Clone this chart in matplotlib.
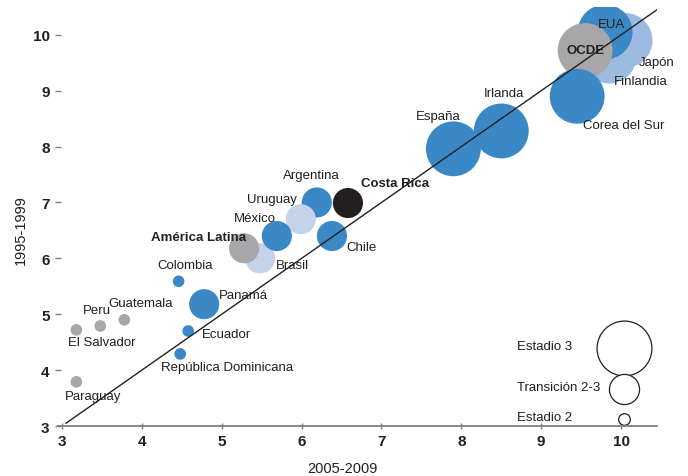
import numpy as np
import matplotlib
matplotlib.use("Agg")
import matplotlib.pyplot as plt

plt.rcParams["font.family"] = ["Liberation Sans", "DejaVu Sans"]

# ------------------------------------------------------------
# Data
# ------------------------------------------------------------
countries = ["Japón", "Finlandia", "EUA", "OCDE", "Corea del Sur", "Irlanda", "España",
             "Brasil", "América Latina", "Argentina", "Uruguay", "México", "Chile",
             "Costa Rica", "Colombia", "Panamá", "Ecuador", "República Dominicana",
             "Guatemala", "Peru", "El Salvador", "Paraguay"]
x_2005_2009 = [10.05, 9.85, 9.8, 9.55, 9.45, 8.5, 7.9,
               5.48, 5.28, 6.19, 5.99, 5.69, 6.38,
               6.58, 4.46, 4.78, 4.58, 4.48,
               3.78, 3.48, 3.18, 3.18]
y_1995_1999 = [9.9, 9.62, 10.05, 9.72, 8.9, 8.28, 7.96,
               6.0, 6.18, 7.0, 6.7, 6.4, 6.4,
               6.99, 5.59, 5.18, 4.7, 4.29,
               4.9, 4.79, 4.72, 3.79]
stage = [3, 3, 3, 3, 3, 3, 3,
         2.5, 2.5, 2.5, 2.5, 2.5, 2.5,
         2.5, 2, 2.5, 2, 2,
         2, 2, 2, 2]
group = ["light2", "light2", "blue", "gray", "blue", "blue", "blue",
         "light", "gray", "blue", "light", "blue", "blue",
         "black", "blue", "blue", "blue", "blue",
         "gray", "gray", "gray", "gray"]
bold_labels = ["OCDE", "América Latina", "Costa Rica"]

legend_names = ["Estadio 3", "Transición 2-3", "Estadio 2"]
legend_stage = [3, 2.5, 2]

# ------------------------------------------------------------
# Styles
# ------------------------------------------------------------
size_of = {3: 1560, 2.5: 470, 2: 70}
color_of = {"blue": "#3a88c5", "light": "#c3d4ea", "light2": "#9dbbe0",
            "gray": "#a7a7a9", "black": "#231f20"}

# label offsets in pixels (dx, dy, ha)
label_pos = {
    "EUA": (6, 8, "center"), "Japón": (14, -22, "left"), "Finlandia": (5, -25, "left"),
    "OCDE": (0, 0, "center"), "Corea del Sur": (6, -29, "left"),
    "Irlanda": (3, 38, "center"), "España": (-15, 33, "center"),
    "Costa Rica": (13, 20, "left"), "Argentina": (-5, 27, "center"),
    "Uruguay": (-4, 20, "right"), "México": (-1, 18, "right"),
    "América Latina": (2, 11, "right"), "Brasil": (16, -7, "left"),
    "Chile": (14, -11, "left"), "Colombia": (7, 16, "center"),
    "Panamá": (15, 9, "left"), "Ecuador": (14, -3, "left"),
    "República Dominicana": (-19, -13, "left"), "Guatemala": (-16, 17, "left"),
    "Peru": (-3, 16, "center"), "El Salvador": (-8, -12, "left"),
    "Paraguay": (-11, -14, "left"),
}

# ------------------------------------------------------------
# Plot
# ------------------------------------------------------------
fig = plt.figure(figsize=(6.88, 4.77), dpi=100)
ax = fig.add_axes([0.0843, 0.1048, 0.8707, 0.8775])

for name, xv, yv, st, gr in zip(countries, x_2005_2009, y_1995_1999, stage, group):
    ax.scatter(xv, yv, s=size_of[st], color=color_of[gr], edgecolors="none", zorder=2)
    dx, dy, ha = label_pos[name]
    weight = "bold" if name in bold_labels else "normal"
    ax.annotate(name, (xv, yv), xytext=(dx, dy), textcoords="offset pixels",
                ha=ha, va="center", fontsize=9.5, color="#231f20",
                fontweight=weight, zorder=4)

# 45 degree reference line
line = np.array([3.05, 10.47])
ax.plot(line, line, color="#231f20", lw=1.0, zorder=3)

# size legend
leg_x = 10.04
leg_y = [4.40, 3.66, 3.13]
for name, st, ly in zip(legend_names, legend_stage, leg_y):
    ax.scatter(leg_x, ly, s=size_of[st], facecolors="white", edgecolors="#231f20",
               linewidths=0.9, zorder=2, clip_on=False)
    ax.text(8.7, ly + 0.03, name, ha="left", va="center", fontsize=9.5, color="#231f20")

ax.set_xlim(2.95, 10.45)
ax.set_ylim(3, 10.49)
ax.set_xticks(range(3, 11))
ax.set_yticks(range(3, 11))
for lab in ax.get_xticklabels() + ax.get_yticklabels():
    lab.set_fontweight("bold")
ax.tick_params(labelsize=11, labelcolor="#231f20", color="#7f7f7f", width=1.0)
ax.tick_params(axis="x", direction="inout", length=5, pad=3)
ax.tick_params(axis="y", direction="inout", length=4, pad=4)
ax.spines["top"].set_visible(False)
ax.spines["right"].set_visible(False)
ax.spines["left"].set_visible(False)
ax.spines["bottom"].set_color("#7f7f7f")
ax.spines["bottom"].set_linewidth(1.3)

ax.set_xlabel("2005-2009", fontsize=10.5, color="#231f20")
ax.set_ylabel("1995-1999", fontsize=10.5, color="#231f20")
ax.xaxis.set_label_coords(0.474, -0.083)
ax.yaxis.set_label_coords(-0.05, 0.47)

plt.savefig("out.png", dpi=100)
